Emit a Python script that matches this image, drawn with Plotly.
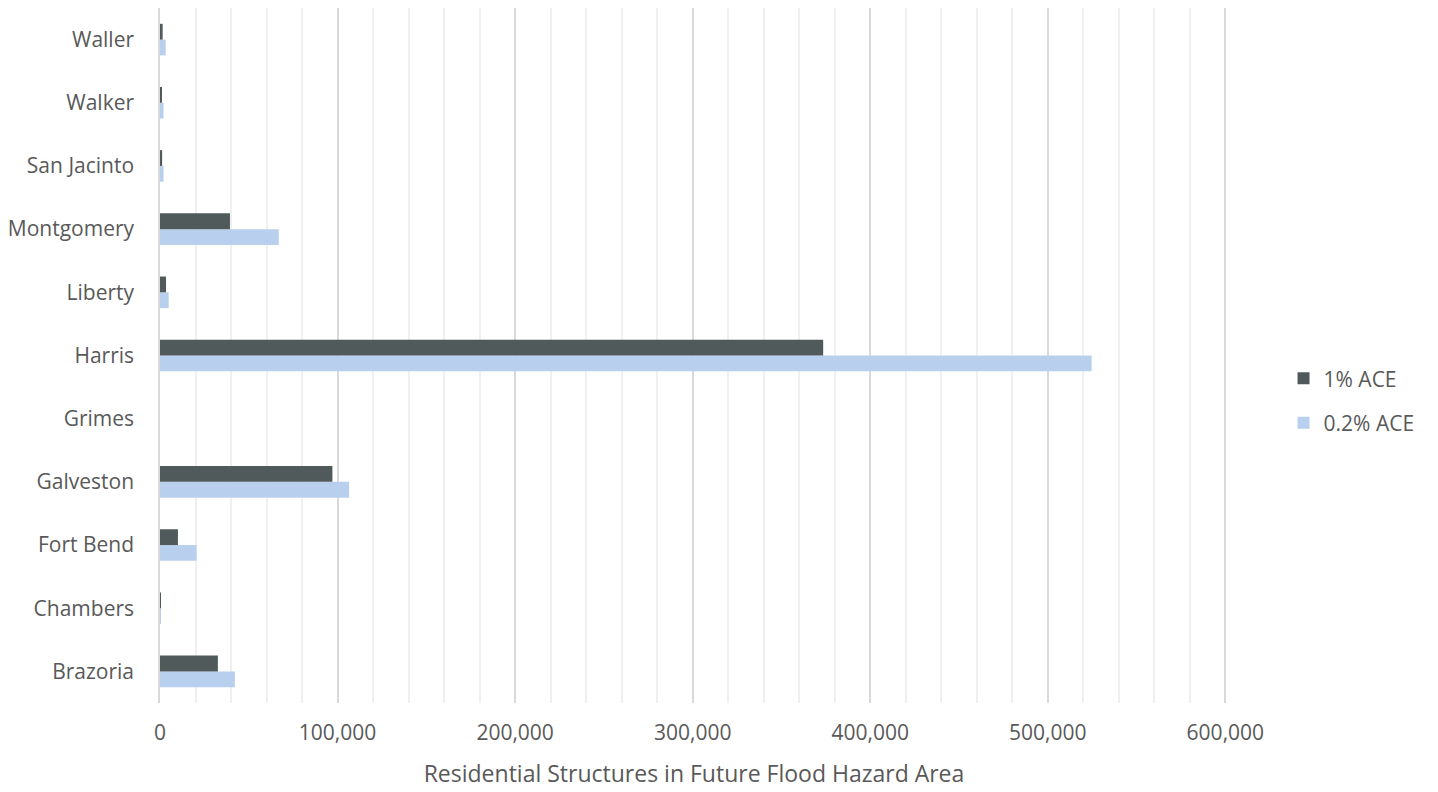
import plotly.graph_objects as go

counties = ["Brazoria", "Chambers", "Fort Bend", "Galveston", "Grimes", "Harris",
            "Liberty", "Montgomery", "San Jacinto", "Walker", "Waller"]
ace_1 = [32600, 300, 10100, 97100, 0, 373500, 3400, 39400, 1200, 600, 1500]
ace_02 = [42200, 500, 20600, 106500, 0, 524700, 4900, 66900, 2000, 2000, 3200]
x_ticks = [0, 100000, 200000, 300000, 400000, 500000, 600000]
x_tick_labels = ["0", "100,000", "200,000", "300,000", "400,000", "500,000", "600,000"]

FONT = "Open Sans"
TXT = "#595959"

fig = go.Figure()
fig.add_trace(go.Bar(y=counties, x=ace_02, orientation="h", name="0.2% ACE",
                     marker=dict(color="#b8cfee", line=dict(width=0)),
                     legendgroup="b", legendrank=2))
fig.add_trace(go.Bar(y=counties, x=ace_1, orientation="h", name="1% ACE",
                     marker=dict(color="#505a5a", line=dict(width=0)),
                     legendgroup="a", legendrank=1))

fig.update_layout(
    width=1430, height=784,
    margin=dict(l=152, r=210, t=0, b=89, autoexpand=False),
    paper_bgcolor="white", plot_bgcolor="white",
    barmode="group", bargap=0.5, bargroupgap=0,
    font=dict(family=FONT, color=TXT, size=21),
    showlegend=True,
    legend=dict(x=1.052, xanchor="left", y=0.435, yanchor="middle",
                traceorder="grouped", tracegroupgap=14,
                font=dict(size=21, color=TXT)),
    xaxis=dict(range=[0, 601500], tickvals=x_ticks, ticktext=x_tick_labels,
               automargin=False,
               showgrid=True, gridcolor="#d9d9d9", gridwidth=1.5,
               minor=dict(dtick=20000, showgrid=True, gridcolor="#f0f0f0", gridwidth=1.5),
               zeroline=False, showline=False, ticks="",
               tickfont=dict(size=21, color=TXT), ticklabelstandoff=15,
               title=dict(text="Residential Structures in Future Flood Hazard Area",
                          font=dict(size=23, color=TXT), standoff=20)),
    yaxis=dict(showline=True, linecolor="#d9d9d9", linewidth=1.5, ticks="",
               automargin=False,
               showgrid=False, tickfont=dict(size=21, color=TXT), ticklabelstandoff=20,
               categoryorder="array", categoryarray=counties),
)

fig.write_html("out.html")
